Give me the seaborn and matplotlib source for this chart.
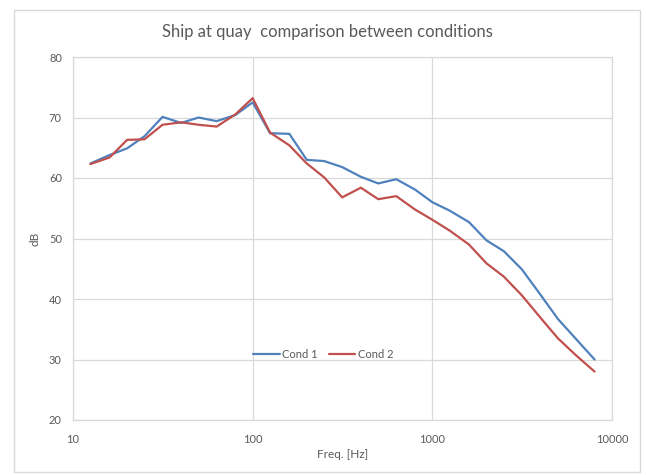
import matplotlib
matplotlib.use("Agg")
import matplotlib.pyplot as plt
from matplotlib.patches import Rectangle
from matplotlib.ticker import FixedLocator, FixedFormatter, NullLocator
import numpy as np
import pandas as pd
import seaborn as sns

# Third-octave band centre frequencies [Hz]
freqs = [12.5, 16, 20, 25, 31.5, 40, 50, 63, 80, 100, 125, 160, 200, 250, 315,
         400, 500, 630, 800, 1000, 1250, 1600, 2000, 2500, 3150, 4000, 5000,
         6300, 8000]

# Sound levels [dB] per band
cond1 = [62.4, 63.8, 64.9, 66.9, 70.1, 69.1, 70.0, 69.4, 70.4, 72.5, 67.4,
         67.3, 63.0, 62.8, 61.8, 60.2, 59.1, 59.8, 58.1, 56.0, 54.6, 52.7,
         49.7, 47.9, 44.9, 40.7, 36.7, 33.4, 30.0]
cond2 = [62.3, 63.4, 66.3, 66.4, 68.8, 69.2, 68.8, 68.5, 70.5, 73.2, 67.5,
         65.4, 62.4, 60.1, 56.8, 58.4, 56.5, 57.0, 54.8, 53.1, 51.3, 49.0,
         45.9, 43.7, 40.6, 36.9, 33.5, 30.7, 28.0]

series_names = ["Cond 1", "Cond 2"]
x_ticks = [10, 100, 1000, 10000]
x_ticklabels = ["10", "100", "1000", "10000"]
y_ticks = [20, 30, 40, 50, 60, 70, 80]

df = pd.DataFrame({
    "freq": freqs * 2,
    "level": cond1 + cond2,
    "series": [series_names[0]] * len(freqs) + [series_names[1]] * len(freqs),
})

sns.set_theme(style="white")
plt.rcParams["font.family"] = ["Lato", "DejaVu Sans"]

text_col = "#595959"
grid_col = "#d9d9d9"

fig = plt.figure(figsize=(6.46, 4.75), dpi=100)
W, H = 646, 475
ax = fig.add_axes([73 / W, 1 - 420 / H, (612 - 73) / W, (420 - 57) / H])

# outer chart frame
fig.patches.append(Rectangle((14 / W, 1 - 472 / H), (640 - 14) / W, (472 - 10) / H,
                             transform=fig.transFigure, fill=False,
                             edgecolor="#d9d9d9", linewidth=1.0))

sns.lineplot(data=df, x="freq", y="level", hue="series",
             palette=["#4f81bd", "#c0504d"], linewidth=1.6, ax=ax,
             estimator=None, sort=False)

ax.set_xscale("log")
ax.set_xlim(10, 10000)
ax.set_ylim(20, 80)
ax.xaxis.set_major_locator(FixedLocator(x_ticks))
ax.xaxis.set_major_formatter(FixedFormatter(x_ticklabels))
ax.xaxis.set_minor_locator(NullLocator())
ax.set_yticks(y_ticks)
ax.grid(True, color=grid_col, linewidth=0.9)
ax.set_axisbelow(True)
for s in ax.spines.values():
    s.set_color(grid_col)
    s.set_linewidth(0.9)
ax.tick_params(axis="both", length=0, labelsize=8, colors=text_col)
ax.tick_params(axis="x", pad=10)
ax.tick_params(axis="y", pad=8)

ax.set_xlabel("Freq. [Hz]", fontsize=8.5, color=text_col, labelpad=3)
ax.set_ylabel("dB", fontsize=8.5, color=text_col, labelpad=6)
fig.text(327 / W, 1 - 32 / H,
         "Ship at quay  comparison between conditions",
         ha="center", va="center", fontsize=12, color=text_col)

leg = ax.legend(loc="center", bbox_to_anchor=(0.464, 0.18), ncol=2, frameon=False,
                fontsize=8, handlelength=2.4, columnspacing=1.0,
                handletextpad=0.2, labelcolor=text_col)

fig.savefig("out.png", dpi=100)
